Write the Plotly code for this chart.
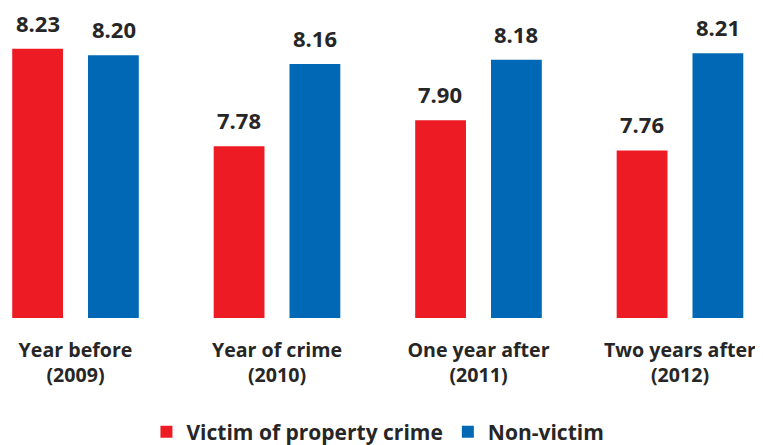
import plotly.graph_objects as go

categories = ["Year before<br>(2009)", "Year of crime<br>(2010)", "One year after<br>(2011)", "Two years after<br>(2012)"]
victim = [8.23, 7.78, 7.90, 7.76]
non_victim = [8.20, 8.16, 8.18, 8.21]
series_names = ["Victim of property crime", "Non-victim"]

RED = "#ED1C24"
BLUE = "#0068B5"
TXT = "#262626"
FONT = "Open Sans"

x_idx = list(range(len(categories)))

fig = go.Figure()
fig.add_trace(go.Bar(x=x_idx, y=victim, name=series_names[0], marker=dict(color=RED, line=dict(width=0))))
fig.add_trace(go.Bar(x=x_idx, y=non_victim, name=series_names[1], marker=dict(color=BLUE, line=dict(width=0))))

ann = []
for shift, vals in ((-38, victim), (38, non_victim)):
    for i, v in enumerate(vals):
        ann.append(dict(x=i, y=v, xref="x", yref="y", text=f"{v:.2f}", showarrow=False,
                        xshift=shift, yshift=9, yanchor="bottom",
                        font=dict(size=22, color=TXT, family=FONT, weight="bold")))

fig.update_layout(
    width=755, height=437,
    margin=dict(l=0, r=0, t=0, b=127, autoexpand=False),
    paper_bgcolor="white", plot_bgcolor="white",
    barmode="group", bargap=0.2475, bargroupgap=0.33,
    font=dict(family=FONT, color=TXT, size=21, weight="bold"),
    xaxis=dict(tickmode="array", tickvals=x_idx, ticktext=categories, range=[-0.335, 3.412],
               showline=False, showgrid=False, zeroline=False, ticks="", automargin=False,
               ticklabelstandoff=18, tickfont=dict(size=19.6, weight="bold")),
    yaxis=dict(range=[6.985, 8.419], visible=False, automargin=False),
    showlegend=True,
    legend=dict(orientation="h", x=0.49, xanchor="center", y=-0.368, yanchor="middle",
                font=dict(size=21, weight="bold"), traceorder="normal"),
    annotations=ann,
)
fig.write_html("out.html")
